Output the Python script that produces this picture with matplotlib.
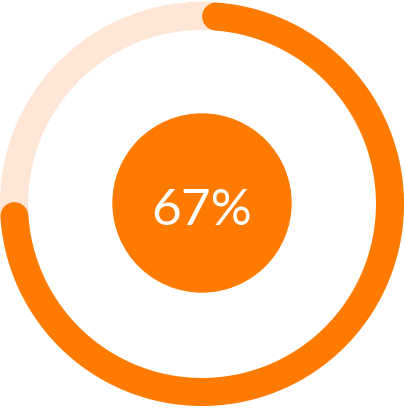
import numpy as np
import matplotlib.pyplot as plt

value = 67
label = '67%'
arc_start = 4.3      # degrees clockwise from 12 o'clock
arc_sweep = 262.0    # drawn sweep of the progress arc

orange = '#ff7b00'
track = '#ffe5d6'

fig = plt.figure(figsize=(4.04, 4.08), dpi=100)
ax = fig.add_axes([0, 0, 1, 1])
ax.set_xlim(0, 404)
ax.set_ylim(408, 0)
ax.set_aspect('equal')
ax.axis('off')

cx, cy, r = 202, 204, 188
lw = 28 * 72 / 100

t = np.radians(np.linspace(0, 360, 400))
ax.plot(cx + r * np.sin(t), cy - r * np.cos(t), color=track, lw=lw)

t = np.radians(np.linspace(arc_start, arc_start + arc_sweep, 400))
ax.plot(cx + r * np.sin(t), cy - r * np.cos(t), color=orange, lw=lw,
        solid_capstyle='round')

ax.add_patch(plt.Circle((cx, 203), 89, color=orange))
ax.text(cx, 211, label, color='white', fontsize=37, family='Lato',
        ha='center', va='center')

fig.savefig('out.png', dpi=100)
